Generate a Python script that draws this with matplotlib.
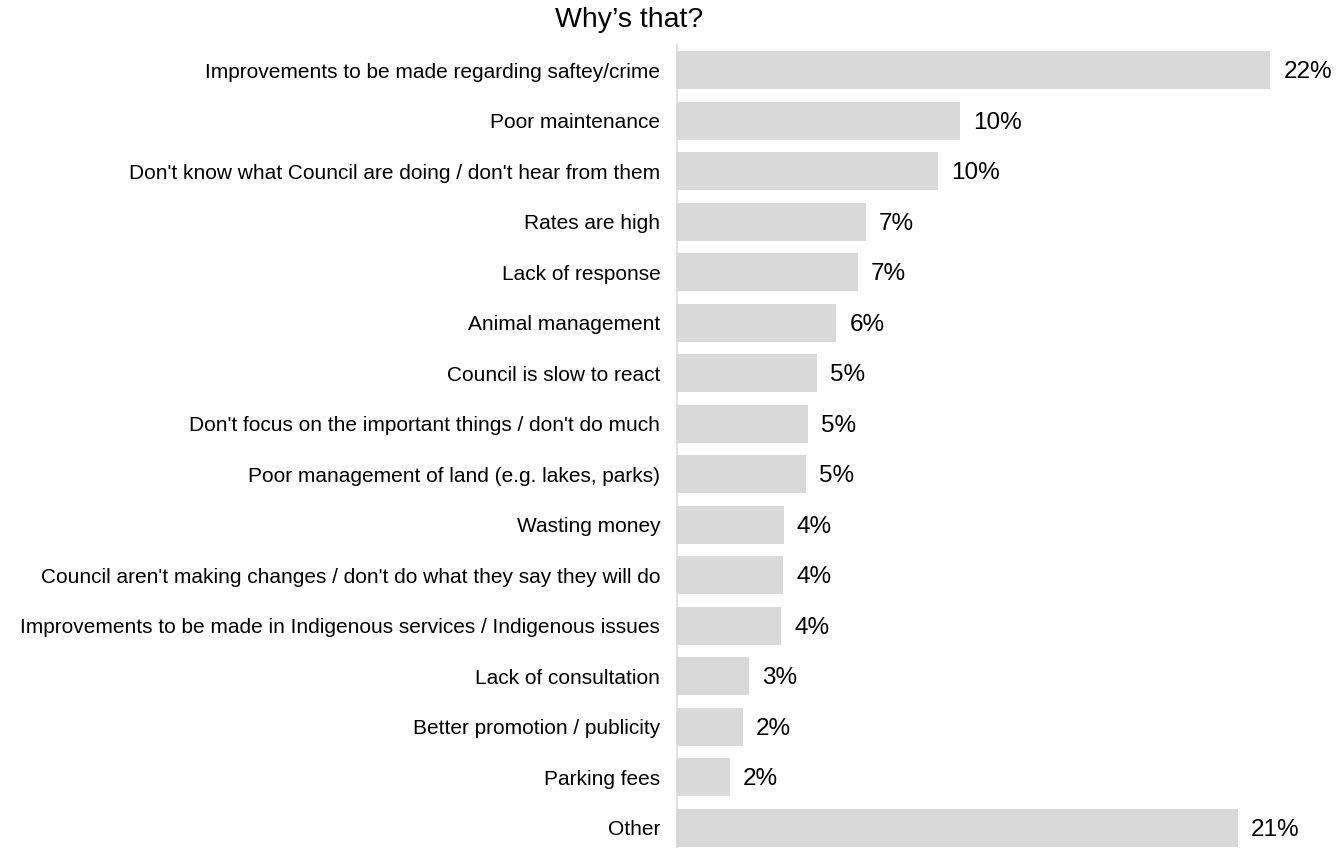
import matplotlib.pyplot as plt

plt.rcParams['font.family'] = ['Liberation Sans', 'DejaVu Sans']

categories = [
    "Improvements to be made regarding saftey/crime",
    "Poor maintenance",
    "Don't know what Council are doing / don't hear from them",
    "Rates are high",
    "Lack of response",
    "Animal management",
    "Council is slow to react",
    "Don't focus on the important things / don't do much",
    "Poor management of land (e.g. lakes, parks)",
    "Wasting money",
    "Council aren't making changes / don't do what they say they will do",
    "Improvements to be made in Indigenous services / Indigenous issues",
    "Lack of consultation",
    "Better promotion / publicity",
    "Parking fees",
    "Other",
]
values = [21.8, 10.4, 9.6, 6.95, 6.65, 5.85, 5.15, 4.8, 4.75,
          3.93, 3.9, 3.82, 2.65, 2.43, 1.95, 20.6]

bar_color = '#D9D9D9'

fig = plt.figure(figsize=(13.44, 8.48), dpi=100)
ax = fig.add_axes([0.5037, 0.0, 0.486, 0.947])

pos = list(range(len(categories)))
ax.barh(pos, values, height=0.75, color=bar_color, zorder=2)

for y, v in zip(pos, values):
    ax.text(v + 0.48, y + 0.04, f"{v:.0f}%", va='center', ha='left', fontsize=17.5, color='black')

ax.set_ylim(15.4, -0.5)
ax.set_xlim(0, 24)
ax.set_yticks(pos)
ax.set_yticklabels(categories, fontsize=15)
ax.tick_params(axis='y', length=0, pad=12)
ax.set_xticks([])

for side in ['top', 'right', 'bottom']:
    ax.spines[side].set_visible(False)
ax.spines['left'].set_color(bar_color)
ax.spines['left'].set_linewidth(1.2)

fig.text(0.468, 0.977, "Why\u2019s that?", ha='center', va='center', fontsize=20.5)

fig.savefig('out.png', dpi=100)
